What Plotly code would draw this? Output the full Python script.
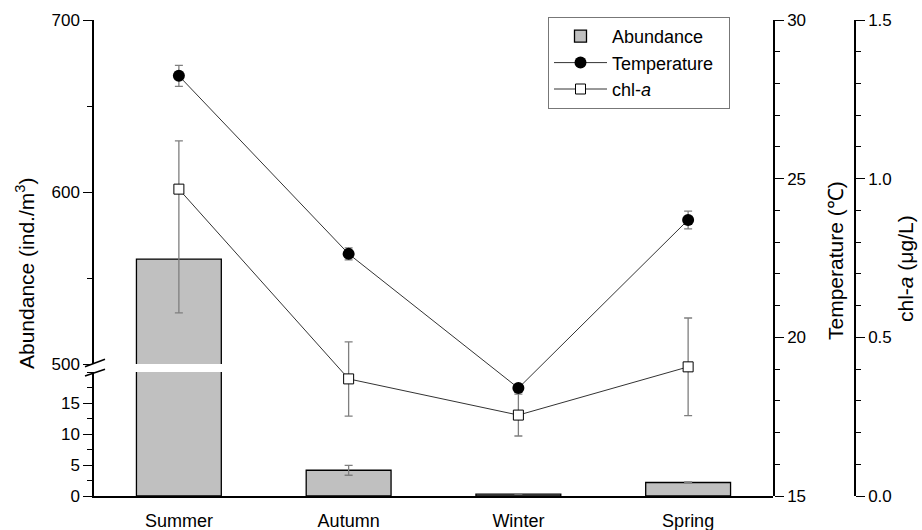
import plotly.graph_objects as go

seasons = ["Summer", "Autumn", "Winter", "Spring"]
abundance = [561, 4.15, 0.3, 2.18]
abundance_err = [None, 0.8, None, 0.1]
temperature = [28.24, 22.63, 18.40, 23.70]
temperature_err = [0.33, 0.19, 0.08, 0.28]
chla = [0.967, 0.369, 0.255, 0.407]
chla_err_plus = [0.152, 0.117, 0.066, 0.154]
chla_err_minus = [0.39, 0.117, 0.066, 0.154]

W, H = 922, 530
ML, MR, MT, MB = 94, 20, 20, 34
PW = W - ML - MR
PH = H - MT - MB

def px(x):
    return (x - ML) / PW

def py(y):
    return (H - MB - y) / PH

FONT = "Liberation Sans, Arial, sans-serif"
BAR_FILL = "#c0c0c0"
ERR = "#7f7f7f"

fig = go.Figure()

fig.add_trace(go.Bar(
    x=seasons, y=abundance, width=0.5, name="Abundance",
    marker=dict(color=BAR_FILL, line=dict(color="#000", width=1.3)),
    error_y=dict(type="data", array=abundance_err, color=ERR, thickness=1.3, width=4),
    xaxis="x", yaxis="y", showlegend=True, legendrank=1,
))
fig.add_trace(go.Bar(
    x=seasons, y=abundance, width=0.5, name="Abundance",
    marker=dict(color=BAR_FILL, line=dict(color="#000", width=1.3)),
    xaxis="x", yaxis="y2", showlegend=False,
))
fig.add_trace(go.Scatter(
    x=seasons, y=chla, name="chl-<i>a</i>", mode="lines+markers",
    line=dict(color="#333", width=1),
    marker=dict(symbol="square", size=10, color="white", line=dict(color="#000", width=1)),
    error_y=dict(type="data", symmetric=False, array=chla_err_plus, arrayminus=chla_err_minus,
                 color=ERR, thickness=1.3, width=4),
    xaxis="x", yaxis="y3", legendrank=3, cliponaxis=False,
))
fig.add_trace(go.Scatter(
    x=seasons, y=temperature, name="Temperature\u00a0\u00a0", mode="lines+markers",
    line=dict(color="#333", width=1),
    marker=dict(symbol="circle", size=12, color="#000"),
    error_y=dict(type="data", array=temperature_err, color=ERR, thickness=1.3, width=4),
    xaxis="x", yaxis="y4", legendrank=2, cliponaxis=False,
))

tickfont = dict(family=FONT, size=17, color="#000")
x_end = px(773)
lower_top = py(372)
upper_bot = py(364)

common = dict(showline=True, linecolor="#000", linewidth=1.5, ticks="outside", ticklen=9,
              tickwidth=1.3, tickcolor="#000", tickfont=tickfont, showgrid=False,
              zeroline=False, automargin=False)
minor_common = dict(ticks="outside", ticklen=5, tickwidth=1.3, tickcolor="#000")

fig.update_layout(
    width=W, height=H,
    margin=dict(l=ML, r=MR, t=MT, b=MB, autoexpand=False),
    paper_bgcolor="white", plot_bgcolor="rgba(0,0,0,0)",
    font=dict(family=FONT, size=17, color="#000"),
    barmode="overlay",
    xaxis=dict(domain=[0, x_end], range=[-0.5, 3.5], anchor="y",
               showline=True, linecolor="#000", linewidth=1.5,
               ticks="", tickfont=dict(family=FONT, size=18, color="#000"), ticklabelstandoff=8,
               showgrid=False, zeroline=False, automargin=False),
    yaxis=dict(domain=[0, lower_top], range=[0, 20], anchor="x",
               tickvals=[0, 5, 10, 15],
               minor=dict(tickvals=[2.5, 7.5, 12.5, 17.5, 20], **minor_common), **common),
    yaxis2=dict(domain=[upper_bot, 1], range=[500, 700], anchor="x",
                tickvals=[500, 600, 700],
                minor=dict(tickvals=[550, 650], **minor_common), **common),
    yaxis3=dict(domain=[0, 1], range=[0, 1.5], anchor="free", position=px(855), side="right",
                tickvals=[0, 0.5, 1.0, 1.5], tickformat=".1f",
                minor=dict(dtick=0.1, **minor_common), **common),
    yaxis4=dict(overlaying="y3", range=[15, 30], anchor="x", side="right",
                tickvals=[15, 20, 25, 30],
                minor=dict(dtick=1, **minor_common), **common),
    legend=dict(x=px(548), y=py(17), xanchor="left", yanchor="top",
                bgcolor="white", bordercolor="#777", borderwidth=1,
                font=dict(family=FONT, size=18, color="#000"),
                tracegroupgap=0, itemwidth=53),
    annotations=[
        dict(text="Abundance (ind./m<sup>3</sup>)", x=px(25), y=py(274), xref="paper", yref="paper",
             xanchor="center", yanchor="middle",
             textangle=-90, showarrow=False, font=dict(family=FONT, size=21)),
        dict(text="Temperature (\u2103)", x=px(835), y=py(261), xref="paper", yref="paper",
             xanchor="center", yanchor="middle",
             textangle=-90, showarrow=False, font=dict(family=FONT, size=21)),
        dict(text="chl-<i>a</i> (\u03bcg/L)", x=px(905), y=py(268), xref="paper", yref="paper",
             xanchor="center", yanchor="middle",
             textangle=-90, showarrow=False, font=dict(family=FONT, size=21)),
    ],
    shapes=[
        dict(type="line", xref="paper", yref="paper", x0=px(85), y0=py(366.7), x1=px(105), y1=py(359.3),
             line=dict(color="#000", width=1.5)),
        dict(type="line", xref="paper", yref="paper", x0=px(85), y0=py(376), x1=px(105), y1=py(369.3),
             line=dict(color="#000", width=1.5)),
    ],
)

fig.write_html("out.html")
